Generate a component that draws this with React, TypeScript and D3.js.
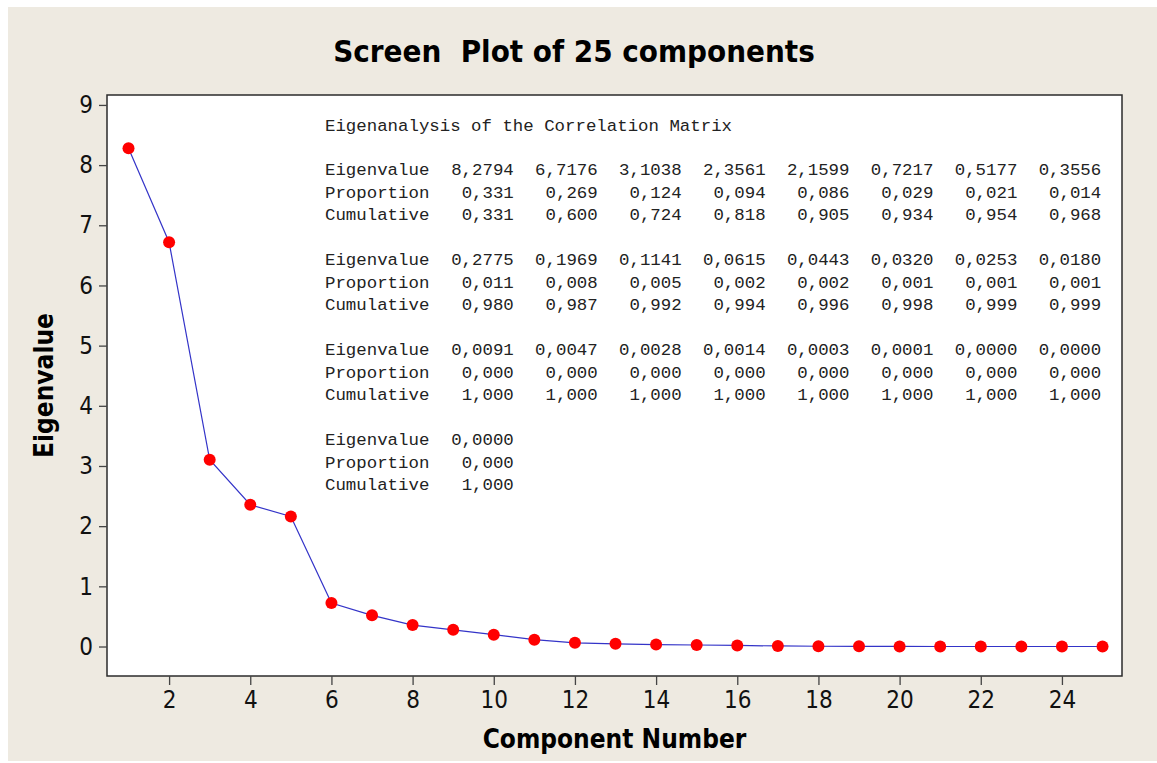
import { useRef, useEffect } from 'react'
import * as d3 from 'd3'

// eigenanalysis output, 25 components
const components = d3.range(1, 26)
const eigenvalues = [
  8.2794, 6.7176, 3.1038, 2.3561, 2.1599, 0.7217, 0.5177, 0.3556,
  0.2775, 0.1969, 0.1141, 0.0615, 0.0443, 0.032, 0.0253, 0.018,
  0.0091, 0.0047, 0.0028, 0.0014, 0.0003, 0.0001, 0.0, 0.0,
  0.0,
]
const proportions = [
  0.331, 0.269, 0.124, 0.094, 0.086, 0.029, 0.021, 0.014,
  0.011, 0.008, 0.005, 0.002, 0.002, 0.001, 0.001, 0.001,
  0.0, 0.0, 0.0, 0.0, 0.0, 0.0, 0.0, 0.0,
  0.0,
]
const cumulative = [
  0.331, 0.6, 0.724, 0.818, 0.905, 0.934, 0.954, 0.968,
  0.98, 0.987, 0.992, 0.994, 0.996, 0.998, 0.999, 0.999,
  1.0, 1.0, 1.0, 1.0, 1.0, 1.0, 1.0, 1.0,
  1.0,
]
const xTicks = [2, 4, 6, 8, 10, 12, 14, 16, 18, 20, 22, 24]
const yTicks = [0, 1, 2, 3, 4, 5, 6, 7, 8, 9]

const W = 1157
const H = 763
const sans = "'DejaVu Sans Condensed', 'DejaVu Sans', sans-serif"
const mono = "'Liberation Mono', 'DejaVu Sans Mono', monospace"

// minitab prints with a decimal comma
const fmt = (v: number, d: number) => v.toFixed(d).replace('.', ',')

export default function App() {
  const ref = useRef<SVGSVGElement>(null)

  useEffect(() => {
    if (!ref.current) return
    const svg = d3.select(ref.current)
    svg.selectAll('*').remove()

    const plot = { left: 107, top: 95, right: 1122, bottom: 676 }

    svg.append('rect').attr('width', W).attr('height', H).attr('fill', '#fff')
    svg.append('rect')
      .attr('x', 8).attr('y', 7)
      .attr('width', W - 8).attr('height', H - 9)
      .attr('fill', '#eeeae1')

    const x = d3.scaleLinear().domain([0.47, 25.48]).range([plot.left, plot.right])
    const y = d3.scaleLinear().domain([-0.49, 9.165]).range([plot.bottom, plot.top])

    svg.append('rect')
      .attr('x', plot.left).attr('y', plot.top)
      .attr('width', plot.right - plot.left)
      .attr('height', plot.bottom - plot.top)
      .attr('fill', '#fff')
      .attr('stroke', '#2b2b2b')
      .attr('stroke-width', 1.5)

    // axes
    const yAxis = svg.append('g')
      .attr('transform', `translate(${plot.left},0)`)
      .call(d3.axisLeft(y).tickValues(yTicks).tickSize(8).tickPadding(6).tickFormat(d3.format('d')))
    const xAxis = svg.append('g')
      .attr('transform', `translate(0,${plot.bottom})`)
      .call(d3.axisBottom(x).tickValues(xTicks).tickSize(9).tickPadding(6).tickFormat(d3.format('d')))
    for (const ax of [xAxis, yAxis]) {
      ax.select('.domain').remove()
      ax.selectAll('line').attr('stroke', '#444').attr('stroke-width', 1.3)
      ax.selectAll('text')
        .attr('font-family', sans)
        .attr('font-size', 24)
        .attr('fill', '#111')
    }

    // eigenanalysis table
    const table = svg.append('g')
      .attr('font-family', mono)
      .attr('font-size', 17.4)
      .attr('fill', '#222')
    const cw = 10.49
    const tx = 325
    table.append('text').attr('x', tx).attr('y', 131).text('Eigenanalysis of the Correlation Matrix')
    const rows = [
      { label: 'Eigenvalue', vals: eigenvalues, d: 4 },
      { label: 'Proportion', vals: proportions, d: 3 },
      { label: 'Cumulative', vals: cumulative, d: 3 },
    ]
    for (let b = 0; b < 4; b++) {
      const chunk = components.slice(b * 8, b * 8 + 8)
      rows.forEach((r, ri) => {
        const yy = 175 + b * 90 + ri * 22.5
        table.append('text').attr('x', tx).attr('y', yy).text(r.label)
        chunk.forEach((c, ci) => {
          table.append('text')
            .attr('x', tx + (18 + ci * 8) * cw)
            .attr('y', yy)
            .attr('text-anchor', 'end')
            .text(fmt(r.vals[c - 1], r.d))
        })
      })
    }

    // scree line and points
    const line = d3.line<number>()
      .x((_, i) => x(components[i]))
      .y(d => y(d))
    svg.append('path')
      .datum(eigenvalues)
      .attr('d', line)
      .attr('fill', 'none')
      .attr('stroke', '#3434c8')
      .attr('stroke-width', 1.2)
    svg.append('g')
      .selectAll('circle')
      .data(eigenvalues)
      .enter()
      .append('circle')
      .attr('cx', (_, i) => x(components[i]))
      .attr('cy', d => y(d))
      .attr('r', 6)
      .attr('fill', '#f00')

    // titles
    svg.append('text')
      .attr('x', 574).attr('y', 62)
      .attr('text-anchor', 'middle')
      .attr('font-family', sans)
      .attr('font-weight', 'bold')
      .attr('font-size', 31)
      .attr('fill', '#000')
      .attr('xml:space', 'preserve')
      .text('Screen  Plot of 25 components')
    svg.append('text')
      .attr('x', (plot.left + plot.right) / 2).attr('y', 748)
      .attr('text-anchor', 'middle')
      .attr('font-family', sans)
      .attr('font-weight', 'bold')
      .attr('font-size', 26)
      .attr('fill', '#000')
      .text('Component Number')
    svg.append('text')
      .attr('transform', `translate(53,${(plot.top + plot.bottom) / 2}) rotate(-90)`)
      .attr('text-anchor', 'middle')
      .attr('font-family', sans)
      .attr('font-weight', 'bold')
      .attr('font-size', 26)
      .attr('fill', '#000')
      .text('Eigenvalue')
  }, [])

  return (
    <svg
      ref={ref}
      width={W}
      height={H}
      style={{ position: 'fixed', left: 0, top: 0, display: 'block' }}
    />
  )
}
